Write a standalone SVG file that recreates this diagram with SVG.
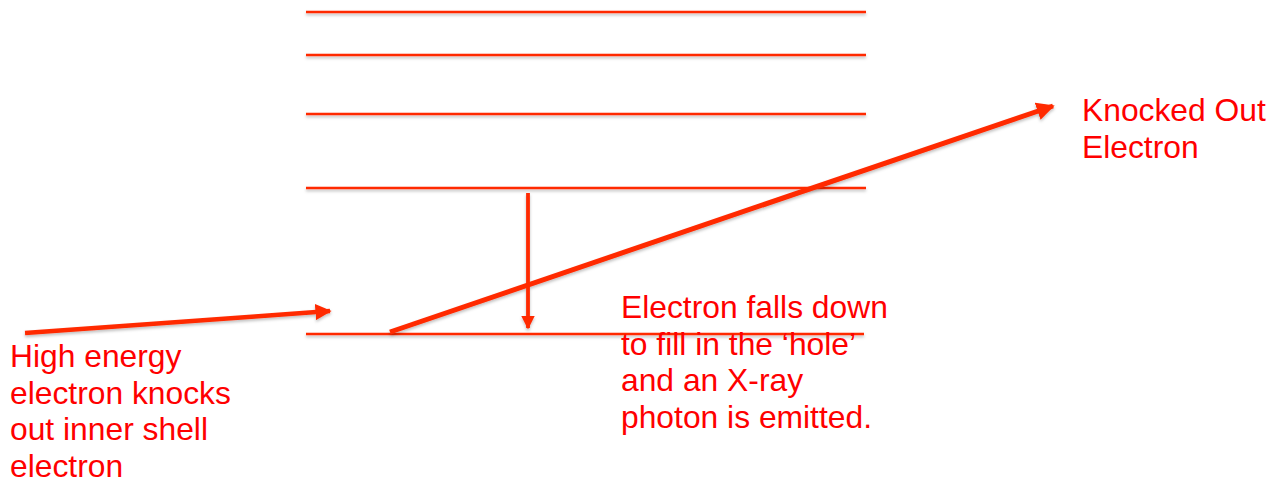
<svg xmlns="http://www.w3.org/2000/svg" width="1282" height="482" viewBox="0 0 1282 482">
<style>
.lvl{stroke:#ff2a00;stroke-width:2.4;fill:none}
.arr{stroke:#ff2a00;fill:none;stroke-linecap:butt}
.t{font-family:"Liberation Sans",Arial,sans-serif;font-size:31.8px;fill:#ff0000}
</style>
<defs>
<filter id="sh" x="-5%" y="-50%" width="110%" height="300%">
<feDropShadow dx="0" dy="2" stdDeviation="1.5" flood-color="#000" flood-opacity="0.25"/>
</filter>
<marker id="ah" viewBox="0 0 10 10" refX="9" refY="5" markerWidth="3.6" markerHeight="3.6" orient="auto" markerUnits="strokeWidth">
<path d="M0,0 L10,5 L0,10 Z" fill="#ff2a00"/>
</marker>
</defs>
<g id="levels" filter="url(#sh)">
<line class="lvl" x1="306" y1="12" x2="866" y2="12"/>
<line class="lvl" x1="306" y1="55" x2="866" y2="55"/>
<line class="lvl" x1="306" y1="114" x2="866" y2="114"/>
<line class="lvl" x1="306" y1="188" x2="866" y2="188"/>
<line class="lvl" x1="306" y1="334" x2="864" y2="334"/>
</g>
<g id="connectors" filter="url(#sh)">
<line class="arr" x1="25" y1="333" x2="330" y2="311" stroke-width="4.5" marker-end="url(#ah)"/>
<line class="arr" x1="390" y1="332" x2="1053" y2="106" stroke-width="5" marker-end="url(#ah)"/>
<line class="arr" x1="528" y1="193" x2="528" y2="328" stroke-width="3.8" marker-end="url(#ah)"/>
</g>
<g id="label-incoming">
<text class="t" x="10" y="367">High energy</text>
<text class="t" x="10" y="403.5">electron knocks</text>
<text class="t" x="10" y="440">out inner shell</text>
<text class="t" x="10" y="476.5">electron</text>
</g>
<g id="label-fall">
<text class="t" x="621" y="318">Electron falls down</text>
<text class="t" x="621" y="354.5">to fill in the ‘hole’</text>
<text class="t" x="621" y="391">and an X-ray</text>
<text class="t" x="621" y="427.5">photon is emitted.</text>
</g>
<g id="label-knocked">
<text class="t" x="1082" y="121">Knocked Out</text>
<text class="t" x="1082" y="157.5">Electron</text>
</g>
</svg>
